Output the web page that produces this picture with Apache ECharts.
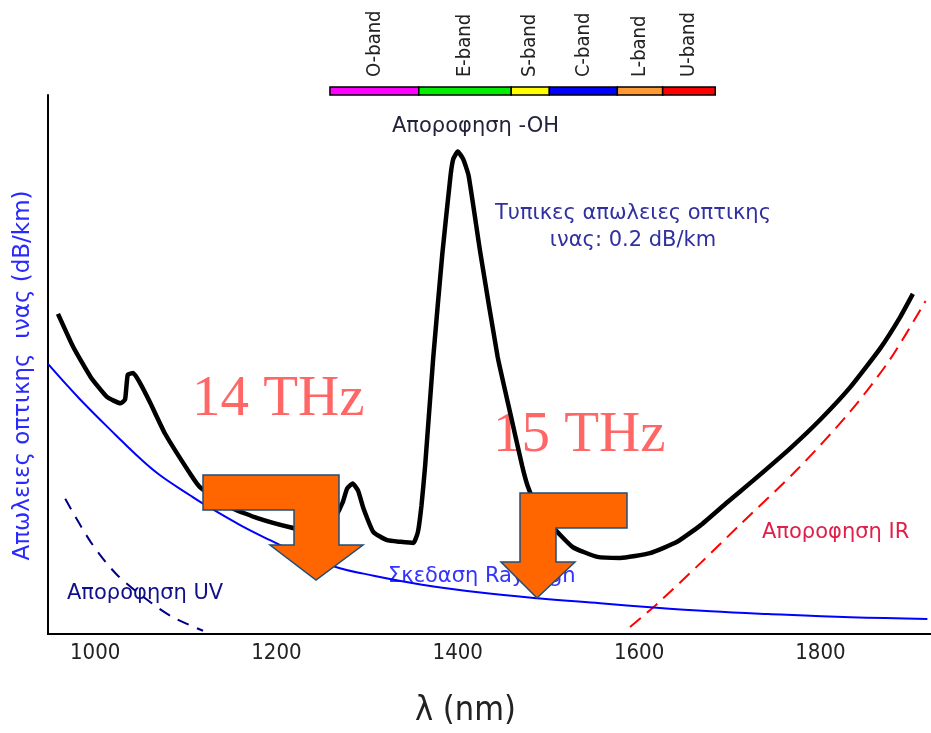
<!DOCTYPE html>
<html>
<head>
<meta charset="utf-8">
<script src="https://cdn.jsdelivr.net/npm/echarts@6/dist/echarts.min.js"></script>
<style>
  html, body { margin: 0; padding: 0; background: #fff; }
  #chart { width: 931px; height: 733px; }
</style>
</head>
<body>
<div id="chart"></div>
<script>
// wavelength (nm) / loss (arbitrary dB/km units, 0..10)
const totalLoss = [
  [959, 5.94], [976, 5.32], [995, 4.77], [1013, 4.40], [1028, 4.28], [1033, 4.35],
  [1036, 4.81], [1042, 4.84], [1050, 4.64], [1061, 4.28], [1077, 3.72], [1105, 2.97],
  [1116, 2.72], [1152, 2.33], [1179, 2.15], [1215, 1.98], [1243, 1.89], [1254, 1.93],
  [1265, 2.17], [1273, 2.44], [1278, 2.70], [1284, 2.79], [1290, 2.66], [1296, 2.33],
  [1307, 1.89], [1322, 1.74], [1337, 1.71], [1351, 1.69], [1356, 1.89], [1360, 2.39],
  [1364, 3.12], [1373, 5.14], [1383, 7.06], [1392, 8.50], [1395, 8.81], [1400, 8.95],
  [1406, 8.81], [1412, 8.50], [1425, 7.06], [1444, 5.14], [1458, 4.09], [1471, 3.12],
  [1477, 2.75], [1486, 2.39], [1497, 2.11], [1510, 1.89], [1527, 1.61], [1554, 1.43],
  [1579, 1.41], [1612, 1.50], [1642, 1.71], [1668, 2.02], [1697, 2.44], [1726, 2.85],
  [1767, 3.45], [1800, 3.98], [1833, 4.58], [1866, 5.30], [1888, 5.88], [1902, 6.31]
]
const rayleigh = [
  [948, 5.01], [983, 4.36], [1024, 3.67], [1050, 3.25], [1072, 2.94], [1105, 2.57],
  [1119, 2.42], [1160, 2.02], [1193, 1.74], [1230, 1.45], [1270, 1.22], [1296, 1.12],
  [1359, 0.92], [1425, 0.77], [1491, 0.66], [1557, 0.57], [1616, 0.49], [1679, 0.42],
  [1742, 0.37], [1833, 0.31], [1918, 0.28]
]
const uvAbsorption = [
  [967, 2.51], [995, 1.71], [1024, 1.10], [1061, 0.59], [1086, 0.31], [1119, 0.06]
]
const irAbsorption = [
  [1590, 0.13], [1618, 0.53], [1668, 1.32], [1712, 2.04], [1775, 3.06],
  [1833, 4.13], [1877, 5.10], [1916, 6.18]
]
const xTicks = [1000, 1200, 1400, 1600, 1800]

const bandNames = ["O-band", "E-band", "S-band", "C-band", "L-band", "U-band"]
const bandStart = [1259, 1357, 1459, 1501, 1576, 1626]
const bandEnd = [1357, 1459, 1501, 1576, 1626, 1684]
const bandColors = ["#ff00ff", "#00ee00", "#ffff00", "#0000ff", "#ff9933", "#ff0000"]

const narrow = "'Liberation Sans Narrow', 'DejaVu Sans Condensed', sans-serif"
const greek = "'DejaVu Sans', Verdana, sans-serif"
const serif = "'Liberation Serif', 'DejaVu Serif', serif"

const chart = echarts.init(document.getElementById("chart"))

const arrowStyle = {fill: "#ff6600", stroke: "#1f4e79", lineWidth: 1.5}
// annotation text helper
const note = (text, x, y, fill, font, align) => ({
    type: "text", x, y,
    style: {text, fill, font, align: align || "left", verticalAlign: "middle"}
})

const option = {
    animation: false,
    grid: {left: 48, right: 0, top: 95, bottom: 93},
    xAxis: [{
        type: "value", min: 948, max: 1922,
        axisLine: {show: true, onZero: false, lineStyle: {color: "#000", width: 2}},
        axisTick: {show: false},
        splitLine: {show: false},
        axisLabel: {
            customValues: xTicks, formatter: v => String(v),
            color: "#222", fontSize: 22, fontFamily: narrow, margin: 8
        },
        name: "λ (nm)", nameLocation: "middle", nameGap: 60,
        nameTextStyle: {fontSize: 34, color: "#222", fontFamily: narrow, padding: [0, 48, 0, 0]}
    }, {
        type: "value", min: 948, max: 1922, position: "top",
        axisLine: {show: true, lineStyle: {color: "#000", width: 2}},
        axisTick: {show: false}, axisLabel: {show: false}, splitLine: {show: false}
    }],
    yAxis: {
        type: "value", min: 0, max: 10,
        axisLine: {show: true, lineStyle: {color: "#000", width: 2}},
        axisTick: {show: false}, axisLabel: {show: false}, splitLine: {show: false},
        name: "Απωλειες οπτικης  ινας (dB/km)", nameLocation: "middle", nameGap: 13,
        nameTextStyle: {fontSize: 23, color: "#2a2aff", fontFamily: greek, padding: [0, 22, 0, 0]}
    },
    series: [{
        type: "line", data: uvAbsorption, showSymbol: false, smooth: 0.3,
        lineStyle: {color: "#000080", width: 2, type: [12, 9]}
    }, {
        type: "line", data: irAbsorption, showSymbol: false, smooth: 0.3,
        lineStyle: {color: "#ff0000", width: 2, type: [14, 8]}
    }, {
        type: "line", data: rayleigh, showSymbol: false, smooth: 0.4,
        lineStyle: {color: "#0000ff", width: 2}
    }, {
        type: "line", data: totalLoss, showSymbol: false, smooth: 0.15,
        lineStyle: {color: "#000", width: 4.5}
    }, {
        type: "custom", clip: false, silent: true, z: 5,
        data: bandStart.map((s, i) => [s, bandEnd[i], i]),
        renderItem(params, api) {
            const i = api.value(2)
            const p0 = api.coord([api.value(0), 10])
            const p1 = api.coord([api.value(1), 10])
            return {
                type: "group",
                children: [{
                    type: "rect",
                    shape: {x: p0[0], y: p0[1] - 8, width: p1[0] - p0[0], height: 8},
                    style: {fill: bandColors[i], stroke: "#000", lineWidth: 1.5}
                }, {
                    type: "text",
                    x: (p0[0] + p1[0]) / 2, y: p0[1] - 18,
                    rotation: Math.PI / 2,
                    style: {
                        text: bandNames[i], align: "left", verticalAlign: "middle",
                        fill: "#222", font: "20px " + narrow
                    }
                }]
            }
        }
    }],
    graphic: [
        note("Αποροφηση -OH", 392, 127, "#22223a", "21px " + greek),
        note("Τυπικες απωλειες οπτικης", 633, 214, "#3030a0", "21px " + greek, "center"),
        note("ινας: 0.2 dB/km", 633, 241, "#3030a0", "21px " + greek, "center"),
        note("Αποροφηση IR", 762, 533, "#e0204a", "21px " + greek),
        note("Σκεδαση Rayleigh", 388, 577, "#3333ff", "21px " + greek),
        note("Αποροφηση UV", 67, 594, "#10108a", "21px " + greek),
        note("14 THz", 192, 400, "#ff6666", "57px " + serif),
        note("15 THz", 493, 436, "#ff6666", "57px " + serif),
        {type: "polygon", z: 100, shape: {points: [[203, 475], [339, 475], [339, 545], [363, 545], [316, 580], [270, 545], [294, 545], [294, 510], [203, 510]]}, style: arrowStyle},
        {type: "polygon", z: 100, shape: {points: [[520, 493], [627, 493], [627, 528], [556, 528], [556, 562], [575, 562], [537, 598], [501, 562], [520, 562]]}, style: arrowStyle}
    ]
}

chart.setOption(option)
</script>
</body>
</html>
